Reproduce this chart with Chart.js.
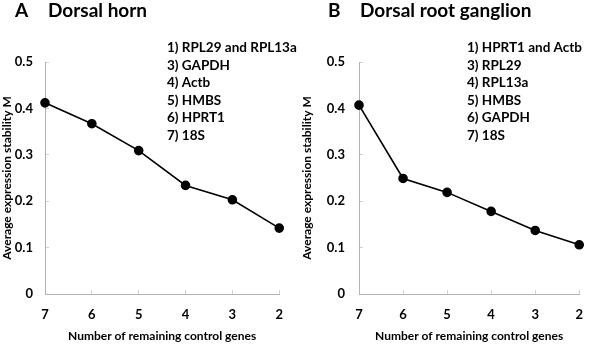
<!DOCTYPE html>
<html>
<head>
<meta charset="utf-8">
<script src="https://cdn.jsdelivr.net/npm/chart.js@4.4.1/dist/chart.umd.min.js"></script>
<style>
  body { margin: 0; background: #fff; }
  .panel { position: absolute; top: 0; width: 300px; height: 344px; }
</style>
</head>
<body>
<div class="panel" style="left:0"><canvas id="chartA" width="300" height="344"></canvas></div>
<div class="panel" style="left:300px"><canvas id="chartB" width="300" height="344"></canvas></div>
<script>
// number of control genes left after each exclusion step
const remainingGenes = ['7', '6', '5', '4', '3', '2'];

// average expression stability M
const dorsalHornM = [0.412, 0.367, 0.309, 0.234, 0.203, 0.142];
const ganglionM = [0.407, 0.249, 0.219, 0.178, 0.137, 0.106];

// ranking of the genes, best first
const dorsalHornRanking = ['1) RPL29 and RPL13a', '3) GAPDH', '4) Actb', '5) HMBS', '6) HPRT1', '7) 18S'];
const ganglionRanking = ['1) HPRT1 and Actb', '3) RPL29', '4) RPL13a', '5) HMBS', '6) GAPDH', '7) 18S'];

const FONT = 'Lato';
Chart.defaults.font.family = FONT;
Chart.defaults.color = '#000';

// panel letter, heading and ranking list
function panelText(letter, letterX, heading, headingX, ranking, listX) {
	return {
		id: 'panelText',
		afterDraw(chart) {
			const ctx = chart.ctx;
			ctx.save();
			ctx.fillStyle = '#000';
			ctx.textBaseline = 'alphabetic';
			ctx.font = 'bold 19px ' + FONT;
			ctx.fillText(letter, letterX, 17);
			ctx.fillText(heading, headingX, 17);
			ctx.font = 'bold 13.5px ' + FONT;
			ranking.forEach((line, i) => {
				ctx.fillText(line, listX, 52 + i * 17.6);
			});
			ctx.restore();
		}
	};
}

function makeChart(id, values, yWidth, rightPad, labelPad, textPlugin) {
	const ctx = document.getElementById(id).getContext('2d');
	return new Chart(ctx, {
		type: 'line',
		data: {
			labels: remainingGenes,
			datasets: [{
				data: values,
				borderColor: '#000',
				borderWidth: 1.6,
				pointRadius: 4,
				pointBackgroundColor: '#000',
				pointBorderColor: '#000',
				tension: 0
			}]
		},
		options: {
			responsive: false,
			animation: false,
			layout: {
				padding: { top: 62, right: rightPad, left: 0, bottom: 0 }
			},
			plugins: {
				legend: { display: false },
				tooltip: { enabled: false }
			},
			scales: {
				x: {
					offset: false,
					grid: {
						drawOnChartArea: false,
						tickLength: -4,
						color: '#d0d0d0'
					},
					border: { color: '#b3b3b3', width: 1 },
					ticks: {
						padding: 17,
						font: { size: 13, weight: 'bold' }
					},
					title: {
						display: true,
						text: 'Number of remaining control genes',
						font: { size: 12, weight: 'bold', lineHeight: 1 },
						padding: { top: 2, bottom: 2 }
					},
					afterFit: (scale) => { scale.height = 50; }
				},
				y: {
					min: 0,
					max: 0.5,
					grid: {
						drawOnChartArea: false,
						tickLength: -4,
						color: '#d0d0d0'
					},
					border: { color: '#b3b3b3', width: 1 },
					ticks: {
						stepSize: 0.1,
						padding: labelPad,
						font: { size: 13, weight: 'bold' }
					},
					title: {
						display: true,
						text: 'Average expression stability M',
						font: { size: 12, weight: 'bold', lineHeight: 1 },
						padding: { top: 1, bottom: 0 }
					},
					afterFit: (scale) => { scale.width = yWidth; }
				}
			}
		},
		plugins: [textPlugin]
	});
}

makeChart('chartA', dorsalHornM, 45, 17, 16,
	panelText('A', 15, 'Dorsal horn', 48, dorsalHornRanking, 167));
makeChart('chartB', ganglionM, 59, 5, 18,
	panelText('B', 28, 'Dorsal root ganglion', 60, ganglionRanking, 167));
</script>
</body>
</html>
